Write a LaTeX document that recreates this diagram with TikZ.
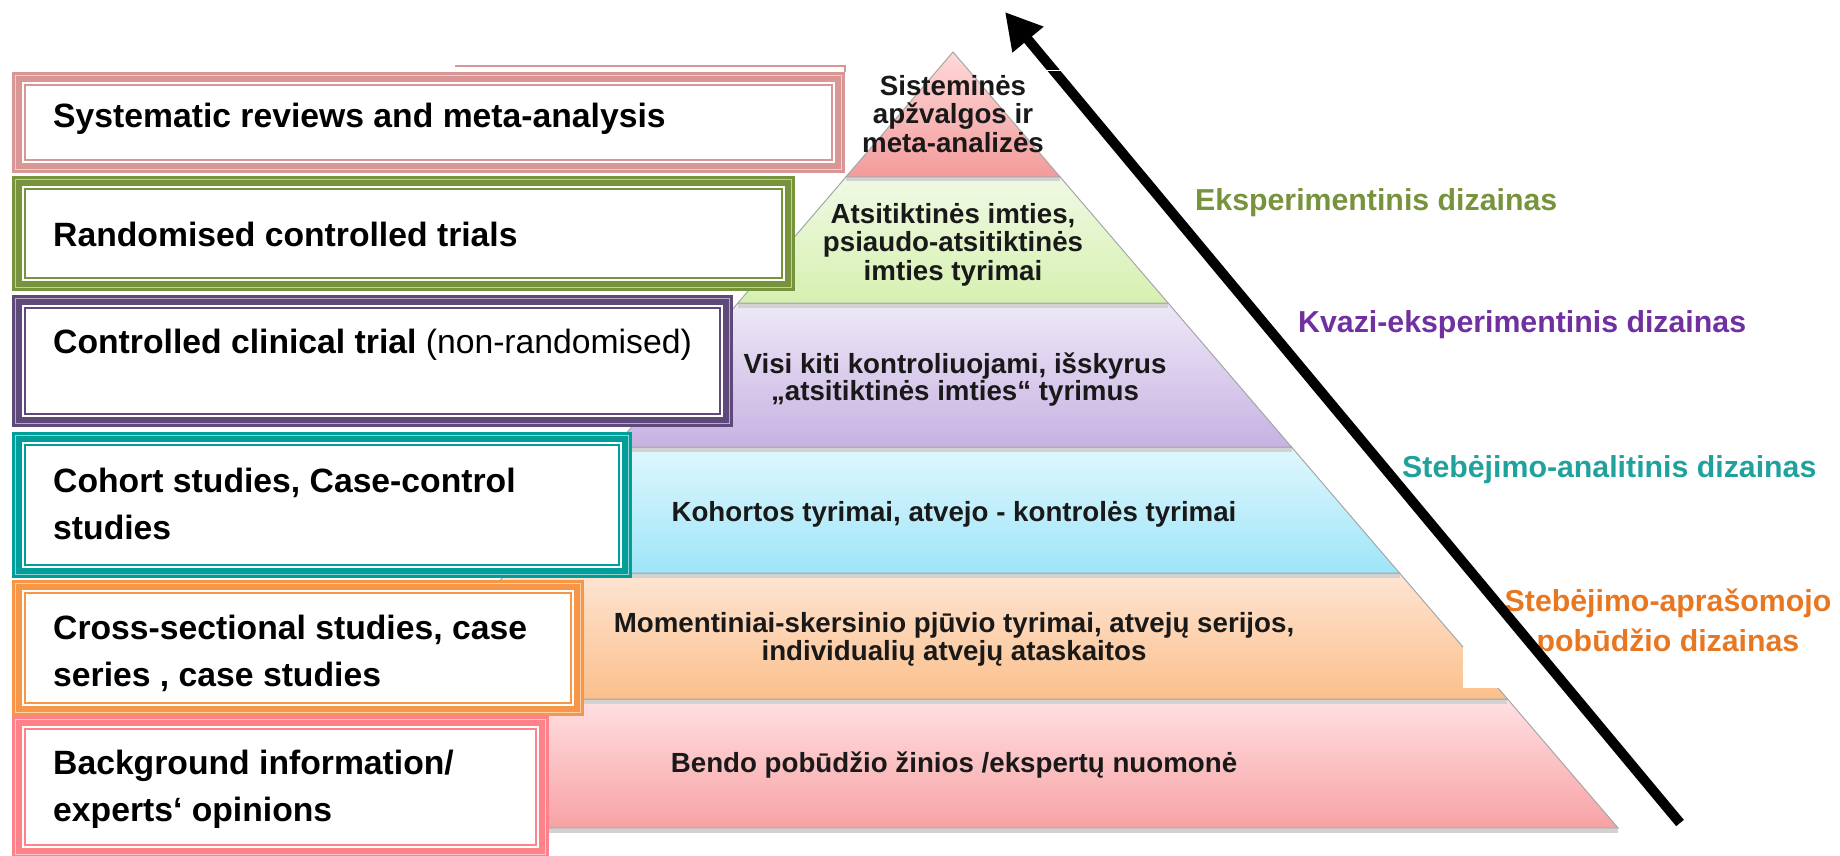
\documentclass[tikz,border=0pt]{standalone}
\usepackage{fontspec}
\setmainfont{Liberation Sans}
\usetikzlibrary{arrows.meta}
\definecolor{fpink}{RGB}{217,150,148}
\definecolor{fgreen}{RGB}{119,147,60}
\definecolor{fpurple}{RGB}{95,73,122}
\definecolor{fteal}{RGB}{0,158,153}
\definecolor{forange}{RGB}{247,150,70}
\definecolor{fred}{RGB}{255,130,138}
\definecolor{lgreen}{RGB}{119,147,60}
\definecolor{lpurple}{RGB}{112,48,160}
\definecolor{lteal}{RGB}{32,162,156}
\definecolor{lorange}{RGB}{232,119,34}
\definecolor{ca1}{RGB}{255,216,216}\definecolor{cb1}{RGB}{243,155,155}
\definecolor{ca2}{RGB}{240,249,228}\definecolor{cb2}{RGB}{214,240,176}
\definecolor{ca3}{RGB}{238,232,247}\definecolor{cb3}{RGB}{199,178,226}
\definecolor{ca4}{RGB}{224,247,253}\definecolor{cb4}{RGB}{158,229,248}
\definecolor{ca5}{RGB}{254,229,211}\definecolor{cb5}{RGB}{251,191,140}
\definecolor{ca6}{RGB}{255,224,227}\definecolor{cb6}{RGB}{247,162,164}
\newcommand{\evframe}[5]{%
  \fill[#5] (#1,#2) rectangle (#3,#4);
  \fill[white] ({#1+10},{#2+10}) rectangle ({#3-10},{#4-10});
  \draw[#5!45!white,line width=0.9] ({#1+3.5},{#2+3.5}) rectangle ({#3-3.5},{#4-3.5});
  \draw[#5,line width=2.8] ({#1+13},{#2+13}) rectangle ({#3-13},{#4-13});
}
\newcommand{\evlayer}[4]{%
  \draw[gray!35,line width=4] ({953-0.857*(#2-52)},{#2+2.5}) -- ({953+0.857*(#2-52)},{#2+2.5});
  \shadedraw[top color=#3,bottom color=#4,draw=gray!70,line width=1]
    ({953-0.857*(#1-52)},#1) -- ({953+0.857*(#1-52)},#1) --
    ({953+0.857*(#2-52)},#2) -- ({953-0.857*(#2-52)},#2) -- cycle;
}
\tikzset{
  lefttxt/.style={font=\fontsize{33.7}{47}\selectfont\bfseries, inner sep=0pt, align=left},
  pyrtxt/.style={font=\fontsize{27.7}{28.5}\selectfont\bfseries, inner sep=0pt, align=center, text=black!90},
  sidetxt/.style={font=\fontsize{30.3}{40}\selectfont\bfseries, inner sep=0pt, align=center},
}
\begin{document}
\begin{tikzpicture}[x=1pt,y=-1pt]
\fill[white] (0,0) rectangle (1840,856);
\useasboundingbox (0,0) rectangle (1840,856);
% pyramid
\evlayer{699}{828}{ca6}{cb6}
\evlayer{573}{699}{ca5}{cb5}
\evlayer{447}{573}{ca4}{cb4}
\evlayer{303}{447}{ca3}{cb3}
\evlayer{177}{303}{ca2}{cb2}
\evlayer{52}{177}{ca1}{cb1}
% frames
\draw[fpink,line width=2] (455,66) -- (845,66) -- (845,72);
\evframe{12}{72}{845}{173}{fpink}
\evframe{12}{176}{795}{291}{fgreen}
\evframe{12}{295}{733}{427}{fpurple}
\evframe{12}{432}{632}{578}{fteal}
\evframe{12}{580}{584}{716}{forange}
\evframe{12}{716}{549}{858}{fred}
% left texts
\node[lefttxt,anchor=base west] (t1) at (53,128) {Systematic reviews and meta-analysis};
\node[lefttxt,anchor=base west] (t2) at (53,246) {Randomised controlled trials};
\node[lefttxt,anchor=base west] (t3) at (53,353.5) {Controlled clinical trial {\mdseries(non-randomised)}};
\node[lefttxt,anchor=north west] (t4) at (53,467.5) {Cohort studies, Case-control\\studies};
\node[lefttxt,anchor=north west] (t5) at (53,614.5) {Cross-sectional studies, case\\series , case studies};
\node[lefttxt,anchor=north west] (t6) at (53,749.5) {Background information/\\experts‘ opinions};
% pyramid texts
\node[pyrtxt,anchor=north] (p1) at (953,75) {Sisteminės\\apžvalgos ir\\meta-analizės};
\node[pyrtxt,anchor=north] (p2) at (953,203) {Atsitiktinės imties,\\psiaudo-atsitiktinės\\imties tyrimai};
\node[pyrtxt,anchor=north,font=\fontsize{27.7}{27}\selectfont\bfseries] (p3) at (955,353) {Visi kiti kontroliuojami, išskyrus\\„atsitiktinės imties“ tyrimus};
\node[pyrtxt,anchor=base] (p4) at (954,521.5) {Kohortos tyrimai, atvejo - kontrolės tyrimai};
\node[pyrtxt,anchor=north] (p5) at (954,612) {Momentiniai-skersinio pjūvio tyrimai, atvejų serijos,\\individualių atvejų ataskaitos};
\node[pyrtxt,anchor=base] (p6) at (954,772.5) {Bendo pobūdžio žinios /ekspertų nuomonė};
% right labels
\fill[white] (1463,647) rectangle (1504,688);
\node[sidetxt,anchor=base west,text=lgreen] (r1) at (1195,210.5) {Eksperimentinis dizainas};
\node[sidetxt,anchor=base west,text=lpurple] (r2) at (1298,332.5) {Kvazi-eksperimentinis dizainas};
\node[sidetxt,anchor=base west,text=lteal] (r3) at (1402,477.5) {Stebėjimo-analitinis dizainas};
\node[sidetxt,anchor=north,text=lorange] (r4) at (1668,588.5) {Stebėjimo-aprašomojo\\pobūdžio dizainas};
% arrow
\coordinate (abot) at (1680,823);
\coordinate (atop) at (1005,12);
\draw[line width=10,-{Triangle[length=36,width=38]}] (abot) -- (atop);
\draw[white,line width=1.5] (1027,70.5) -- (1062,70.5);
\end{tikzpicture}
\end{document}
